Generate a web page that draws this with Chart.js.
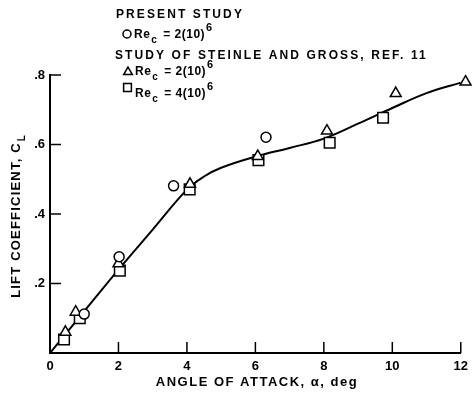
<!DOCTYPE html>
<html>
<head>
<meta charset="utf-8">
<script src="https://cdn.jsdelivr.net/npm/chart.js@4/dist/chart.umd.min.js"></script>
<style>
  html, body { margin: 0; padding: 0; background: #fff; }
  #wrap { position: relative; width: 474px; height: 401px; }
</style>
</head>
<body>
<div id="wrap"><canvas id="liftChart" width="474" height="401"></canvas></div>
<script>
// Faired curve through the data
const curveAlpha = [0, 1, 2, 3, 4, 4.5, 5, 6, 7, 8, 9, 10, 11, 12];
const curveCl = [0, 0.12, 0.24, 0.355, 0.47, 0.508, 0.533, 0.565, 0.59, 0.617, 0.66, 0.705, 0.748, 0.778];

// Present study, Re_c = 2(10)^6
const circleAlpha = [1.0, 2.02, 3.61, 6.31];
const circleCl = [0.112, 0.277, 0.481, 0.621];

// Steinle and Gross, Re_c = 2(10)^6
const triAlpha = [0.45, 0.75, 2.0, 4.09, 6.07, 8.09, 10.1, 12.14];
const triCl = [0.06, 0.118, 0.257, 0.486, 0.566, 0.639, 0.747, 0.78];

// Steinle and Gross, Re_c = 4(10)^6
const sqAlpha = [0.41, 0.87, 2.04, 4.08, 6.09, 8.17, 9.73];
const sqCl = [0.039, 0.1, 0.237, 0.471, 0.555, 0.605, 0.677];

const xTicks = [0, 2, 4, 6, 8, 10, 12];
const yTicks = [0.2, 0.4, 0.6, 0.8];

const FONT = '"Liberation Sans", Arial, Helvetica, sans-serif';

function toPoints(xs, ys) {
  return xs.map((x, i) => ({ x: x, y: ys[i] }));
}

function markerSet(label, xs, ys, style, radius) {
  return {
    type: "scatter",
    label: label,
    data: toPoints(xs, ys),
    pointStyle: style,
    pointRadius: radius,
    pointBorderWidth: 1.5,
    pointBorderColor: "#000",
    pointBackgroundColor: "#fff",
    clip: false,
    order: 0,
  };
}

// Re_c = N(10)^6 with sub/superscripts
function drawRe(ctx, x, y, mant) {
  ctx.font = "bold 12px " + FONT;
  ctx.letterSpacing = "0.5px";
  ctx.fillText("Re", x, y);
  x += ctx.measureText("Re").width;
  ctx.font = "bold 10px " + FONT;
  ctx.fillText("c", x + 1, y + 5);
  x += ctx.measureText("c").width + 3;
  ctx.font = "bold 12px " + FONT;
  const mid = " = " + mant + "(10)";
  ctx.fillText(mid, x, y);
  x += ctx.measureText(mid).width;
  ctx.font = "bold 11px " + FONT;
  ctx.fillText("6", x + 1, y - 7);
  ctx.letterSpacing = "0px";
}

// inward tick marks, legend block and axis titles
const annotations = {
  id: "annotations",
  afterDraw(chart) {
    const ctx = chart.ctx;
    const xs = chart.scales.x;
    const ys = chart.scales.y;
    const area = chart.chartArea;
    ctx.save();
    ctx.strokeStyle = "#000";
    ctx.lineWidth = 1.5;
    xTicks.slice(1).forEach((v) => {
      const px = xs.getPixelForValue(v);
      ctx.beginPath();
      ctx.moveTo(px, area.bottom);
      ctx.lineTo(px, area.bottom - 11);
      ctx.stroke();
    });
    yTicks.forEach((v) => {
      const py = ys.getPixelForValue(v);
      ctx.beginPath();
      ctx.moveTo(area.left, py);
      ctx.lineTo(area.left + 11, py);
      ctx.stroke();
    });

    ctx.fillStyle = "#000";
    ctx.textBaseline = "alphabetic";
    ctx.textAlign = "left";

    // legend block
    ctx.font = "bold 12px " + FONT;
    ctx.letterSpacing = "2.1px";
    ctx.fillText("PRESENT STUDY", 116, 18);
    ctx.fillText("STUDY OF STEINLE AND GROSS, REF. 11", 115, 59);
    ctx.letterSpacing = "0px";

    const mk = { borderWidth: 1.3, rotation: 0 };
    ctx.fillStyle = "#fff";
    Chart.helpers.drawPoint(ctx, Object.assign({ pointStyle: "circle", radius: 4 }, mk), 127, 34);
    Chart.helpers.drawPoint(ctx, Object.assign({ pointStyle: "triangle", radius: 5 }, mk), 128, 72);
    Chart.helpers.drawPoint(ctx, Object.assign({ pointStyle: "rect", radius: 5.5 }, mk), 127.5, 87.5);
    ctx.fillStyle = "#000";
    drawRe(ctx, 134, 38, "2");
    drawRe(ctx, 135, 75, "2");
    drawRe(ctx, 135, 97, "4");

    // x title
    ctx.font = "bold 13px " + FONT;
    ctx.letterSpacing = "1.5px";
    ctx.textAlign = "center";
    ctx.fillText("ANGLE OF ATTACK, \u03b1, deg", 257, 386);

    // y title, rotated
    ctx.translate(20, 216);
    ctx.rotate(-Math.PI / 2);
    ctx.textAlign = "left";
    ctx.letterSpacing = "1.2px";
    const yTitle = "LIFT COEFFICIENT, C";
    const w = ctx.measureText(yTitle).width;
    const start = -(w + 8) / 2;
    ctx.fillText(yTitle, start, 0);
    ctx.font = "bold 10px " + FONT;
    ctx.fillText("L", start + w + 1, 5);
    ctx.restore();
  },
};

new Chart(document.getElementById("liftChart"), {
  type: "scatter",
  data: {
    datasets: [
      markerSet("circle", circleAlpha, circleCl, "circle", 5),
      markerSet("triangle", triAlpha, triCl, "triangle", 6.3),
      markerSet("square", sqAlpha, sqCl, "rect", 7.5),
      {
        type: "line",
        label: "curve",
        data: toPoints(curveAlpha, curveCl),
        borderColor: "#000",
        borderWidth: 2,
        pointRadius: 0,
        tension: 0.4,
        fill: false,
        order: 10,
      },
    ],
  },
  options: {
    responsive: false,
    animation: false,
    layout: { padding: { top: 75, right: 9, left: 0, bottom: 0 } },
    plugins: { legend: { display: false }, tooltip: { enabled: false } },
    scales: {
      x: {
        type: "linear",
        min: 0,
        max: 12,
        afterBuildTicks: (s) => { s.ticks = xTicks.map((v) => ({ value: v })); },
        afterFit: (s) => { s.height = 48; },
        grid: { display: true, drawOnChartArea: false, drawTicks: false },
        border: { display: true, color: "#000", width: 2 },
        ticks: {
          color: "#000",
          padding: 6,
          maxRotation: 0,
          font: { family: FONT, size: 13, weight: "bold" },
        },
      },
      y: {
        type: "linear",
        min: 0,
        max: 0.8,
        afterBuildTicks: (s) => { s.ticks = yTicks.map((v) => ({ value: v })); },
        afterFit: (s) => { s.width = 50; },
        grid: { display: true, drawOnChartArea: false, drawTicks: false },
        border: { display: true, color: "#000", width: 2 },
        ticks: {
          color: "#000",
          padding: 5,
          font: { family: FONT, size: 13, weight: "bold" },
          callback: (v) => v.toFixed(1).replace(/^0/, ""),
        },
      },
    },
  },
  plugins: [annotations],
});
</script>
</body>
</html>
